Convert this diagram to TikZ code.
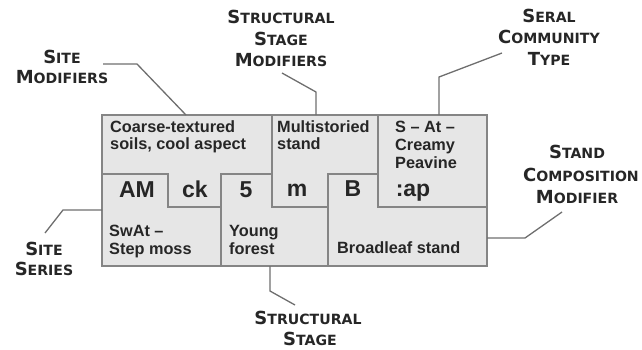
\documentclass[tikz,border=0pt]{standalone}
\usepackage{fontspec}
\setmainfont{Liberation Sans}
\newfontfamily\lblfont{DejaVu Sans}
\definecolor{boxfill}{HTML}{E6E6E6}
\definecolor{boxline}{HTML}{858585}
\definecolor{txt}{HTML}{262626}
\definecolor{lbl}{HTML}{262626}
\definecolor{conn}{HTML}{6E6E6E}
\newcommand\fsc[2]{{\fontsize{18}{20}\selectfont #1}{\fontsize{14.1}{16}\selectfont #2}}
\tikzset{
  cell/.style={draw=boxline, line width=1.3pt},
  small/.style={anchor=base west, inner sep=0pt, text=txt, font=\fontsize{16.3}{18}\selectfont\bfseries},
  big/.style={anchor=base, inner sep=0pt, text=txt, font=\fontsize{23}{26}\selectfont\bfseries},
  lab/.style={anchor=base, inner sep=0pt, text=lbl, font=\lblfont\bfseries},
  conline/.style={draw=conn, line width=1.3pt}
}
\begin{document}
\begin{tikzpicture}[x=1pt,y=-1pt]
\useasboundingbox (0,0) rectangle (642,349);
% boxes
\fill[boxfill] (102,115) rectangle (487,266);
\draw[cell] (102,115) rectangle (487,266);
\draw[cell] (102,174) -- (168,174) -- (168,207) -- (221,207);
\draw[cell] (221,266) -- (221,174) -- (272,174);
\draw[cell] (272,115) -- (272,207) -- (328,207);
\draw[cell] (328,266) -- (328,174) -- (378,174);
\draw[cell] (378,115) -- (378,207) -- (487,207);
% small texts
\node[small] (t1) at (110,132) {Coarse-textured};
\node[small] (t2) at (110,149.5) {soils, cool aspect};
\node[small] (t3) at (277,132) {Multistoried};
\node[small] (t4) at (277,149.5) {stand};
\node[small] (t5) at (395,132) {S – At –};
\node[small] (t6) at (395,150) {Creamy};
\node[small] (t7) at (395,168) {Peavine};
\node[small] (t8) at (109,236) {SwAt –};
\node[small] (t9) at (109,254) {Step moss};
\node[small] (t10) at (229,236) {Young};
\node[small] (t11) at (229,254) {forest};
\node[small] (t12) at (337,253) {Broadleaf stand};
% big codes
\node[big] (c1) at (137,197) {AM};
\node[big] (c2) at (195,197) {ck};
\node[big] (c3) at (246,197) {5};
\node[big] (c4) at (297,196) {m};
\node[big] (c5) at (353,196) {B};
\node[big] (c6) at (413,196.5) {:ap};
% labels
\node[lab] (l1a) at (62,63) {\fsc{S}{ITE}};
\node[lab] (l1b) at (62,83) {\fsc{M}{ODIFIERS}};
\node[lab] (l2a) at (281,23) {\fsc{S}{TRUCTURAL}};
\node[lab] (l2b) at (281,45) {\fsc{S}{TAGE}};
\node[lab] (l2c) at (281,66.5) {\fsc{M}{ODIFIERS}};
\node[lab] (l3a) at (549,22.5) {\fsc{S}{ERAL}};
\node[lab] (l3b) at (549,43.5) {\fsc{C}{OMMUNITY}};
\node[lab] (l3c) at (549,65) {\fsc{T}{YPE}};
\node[lab] (l4a) at (577,158) {\fsc{S}{TAND}};
\node[lab] (l4b) at (581,181.5) {\fsc{C}{OMPOSITION}};
\node[lab] (l4c) at (577,203) {\fsc{M}{ODIFIER}};
\node[lab] (l5a) at (44,255) {\fsc{S}{ITE}};
\node[lab] (l5b) at (44,275) {\fsc{S}{ERIES}};
\node[lab] (l6a) at (308,324) {\fsc{S}{TRUCTURAL}};
\node[lab] (l6b) at (310,345.5) {\fsc{S}{TAGE}};
% connector end points
\coordinate (a1) at (103,64);
\coordinate (a2) at (137,64);
\coordinate (a3) at (186,115);
\coordinate (b1) at (282,73);
\coordinate (b2) at (316,92);
\coordinate (b3) at (316,115);
\coordinate (s1) at (502,53);
\coordinate (s2) at (439,77);
\coordinate (s3) at (439,115);
\coordinate (d1) at (562,212);
\coordinate (d2) at (525,238);
\coordinate (d3) at (487,238);
\coordinate (e1) at (45,233);
\coordinate (e2) at (63,210);
\coordinate (e3) at (102,210);
\coordinate (f1) at (270,266);
\coordinate (f2) at (270,291);
\coordinate (f3) at (295,305);
\draw[conline] (a1) -- (a2) -- (a3);
\draw[conline] (b1) -- (b2) -- (b3);
\draw[conline] (s1) -- (s2) -- (s3);
\draw[conline] (d1) -- (d2) -- (d3);
\draw[conline] (e1) -- (e2) -- (e3);
\draw[conline] (f1) -- (f2) -- (f3);
\end{tikzpicture}
\end{document}
